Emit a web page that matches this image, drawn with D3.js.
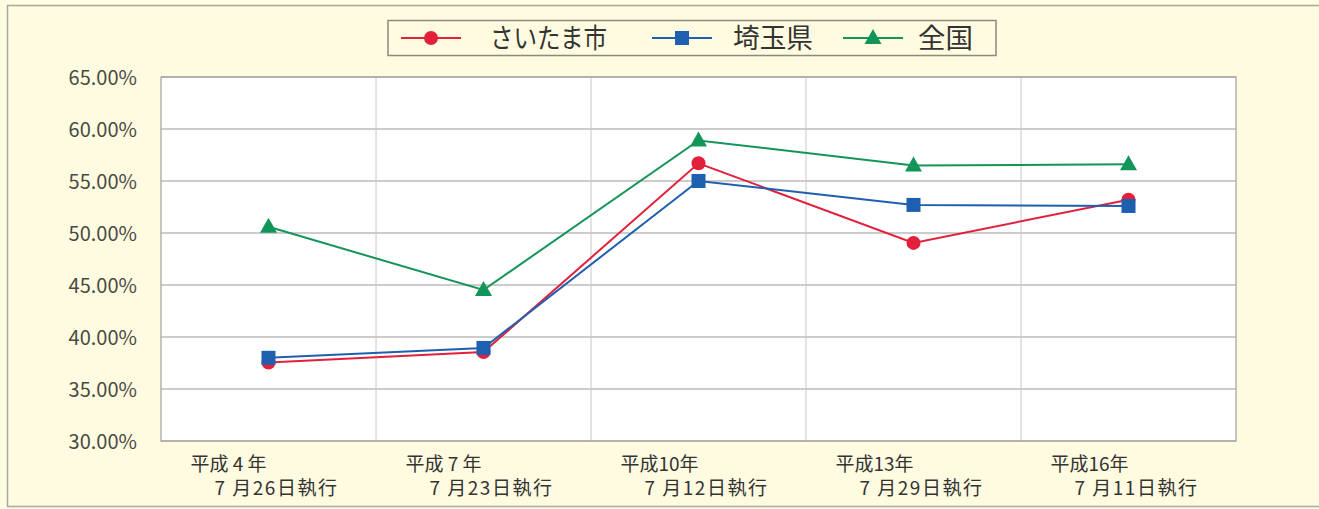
<!DOCTYPE html>
<html><head><meta charset="utf-8">
<script src="https://cdn.jsdelivr.net/npm/d3@7"></script>
<style>
html,body{margin:0;padding:0;background:#fff;}
svg{display:block;}
text{font-family:"Noto Sans CJK JP","Noto Sans",sans-serif;}
</style></head>
<body><svg id="c" width="1319" height="509"></svg>
<script>
const categoriesLine1 = ["平成 4 年","平成 7 年","平成10年","平成13年","平成16年"];
const categoriesLine2 = ["7 月26日執行","7 月23日執行","7 月12日執行","7 月29日執行","7 月11日執行"];
const seriesNames = ["さいたま市","埼玉県","全国"];
const saitamaCity = [37.55, 38.55, 56.7, 49.05, 53.2];
const saitamaPref = [38.0, 38.95, 55.0, 52.7, 52.6];
const national = [50.6, 44.52, 58.9, 56.5, 56.6];
const yTicks = [30,35,40,45,50,55,60,65];

const colors = ["#e3203b","#1e5fb0","#139559"];
const markers = ["circle","square","triangle"];
const series = [saitamaCity, saitamaPref, national];

const svg = d3.select("#c");
svg.append("rect").attr("x",0).attr("y",0).attr("width",1319).attr("height",509).attr("fill","#fffde2");
svg.append("rect").attr("x",7.5).attr("y",5.5).attr("width",1330).attr("height",501).attr("fill","#fffbe0").attr("stroke","#a8a8a0").attr("stroke-width",1.5);

const L=161, R=1236, T=77, B=441;
const x = d3.scaleBand().domain(d3.range(5)).range([L,R]).padding(0);
const y = d3.scaleLinear().domain([30,65]).range([B,T]);

svg.append("rect").attr("x",L).attr("y",T).attr("width",R-L).attr("height",B-T).attr("fill","#fff");
svg.append("g").selectAll("line").data(yTicks).join("line")
  .attr("x1",L).attr("x2",R).attr("y1",d=>y(d)).attr("y2",d=>y(d))
  .attr("stroke","#9a9a9a").attr("stroke-width",1.2);
svg.append("g").selectAll("line").data(d3.range(1,5)).join("line")
  .attr("x1",d=>x(d)).attr("x2",d=>x(d)).attr("y1",T).attr("y2",B)
  .attr("stroke","#c8c8c8").attr("stroke-width",1);
svg.append("rect").attr("x",L).attr("y",T).attr("width",R-L).attr("height",B-T).attr("fill","none").attr("stroke","#a0a0a0").attr("stroke-width",1.2);

const yAxis = d3.axisLeft(y).tickValues(yTicks).tickFormat(d=>d.toFixed(2)+"%").tickSize(0).tickPadding(24);
const ga = svg.append("g").attr("transform",`translate(${L},0)`).call(yAxis);
ga.select(".domain").remove();
ga.selectAll("text").attr("font-size",20).attr("fill","#4a4a44").attr("font-family","'Noto Sans','DejaVu Sans',sans-serif").attr("dy","0.36em");

const xl = svg.append("g");
categoriesLine1.forEach((c,i)=>{
  const cx = x(i)+x.bandwidth()/2;
  xl.append("text").attr("x",cx-78).attr("y",471).attr("font-size",19).attr("fill","#333").text(c);
  xl.append("text").attr("x",cx-54).attr("y",495).attr("font-size",19).attr("letter-spacing",1.5).attr("fill","#333").text(categoriesLine2[i]);
});

function drawMarker(g, type, cx, cy, color){
  if(type==="circle") g.append("circle").attr("cx",cx).attr("cy",cy).attr("r",7).attr("fill",color);
  else if(type==="square") g.append("rect").attr("x",cx-7).attr("y",cy-7).attr("width",14).attr("height",14).attr("fill",color);
  else g.append("path").attr("d",`M${cx},${cy-9}L${cx+8.5},${cy+6}L${cx-8.5},${cy+6}Z`).attr("fill",color);
}

const line = d3.line().x((d,i)=>x(i)+x.bandwidth()/2).y(d=>y(d));
series.forEach((s,k)=>{
  svg.append("path").datum(s).attr("d",line).attr("fill","none").attr("stroke",colors[k]).attr("stroke-width",2);
});
series.forEach((s,k)=>{
  const g = svg.append("g");
  s.forEach((v,i)=>drawMarker(g, markers[k], x(i)+x.bandwidth()/2, y(v), colors[k]));
});

const lg = svg.append("g");
lg.append("rect").attr("x",388).attr("y",20.5).attr("width",608).attr("height",35).attr("fill","#fffbe0").attr("stroke","#8a8a80").attr("stroke-width",1.5);
const legMark = [431, 682, 873];
const textX = [490, 733, 918];
const textLen = [117, 80, 55];
const textSize = [27, 27, 27];
seriesNames.forEach((n,k)=>{
  lg.append("line").attr("x1",legMark[k]-30).attr("x2",legMark[k]+30).attr("y1",38).attr("y2",38).attr("stroke",colors[k]).attr("stroke-width",2);
  drawMarker(lg, markers[k], legMark[k], 38, colors[k]);
  lg.append("text").attr("x",textX[k]).attr("y",48).attr("font-size",textSize[k]).attr("fill","#333")
    .attr("textLength",textLen[k]).attr("lengthAdjust","spacingAndGlyphs").text(n);
});
</script></body></html>
